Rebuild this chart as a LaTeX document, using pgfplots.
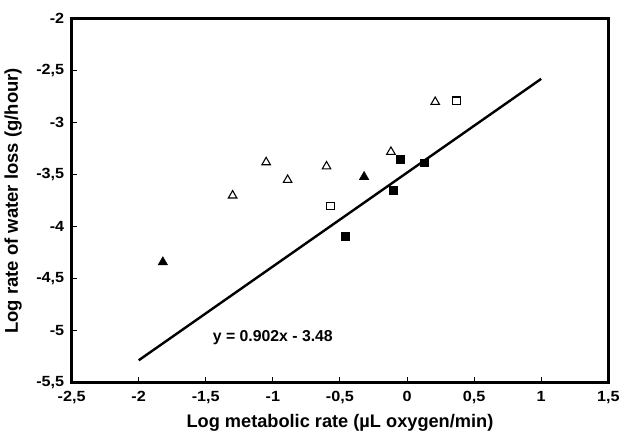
\documentclass[border=0pt]{standalone}
\usepackage{fontspec}
\setmainfont{Liberation Sans}
\usepackage{graphicx}
\usepackage{pgfplots}
\pgfplotsset{compat=1.18}

\begin{document}
\begin{tikzpicture}
\begin{axis}[
    scale only axis,
    width=401pt, height=272pt,
    xmin=-2.5, xmax=1.5, ymin=-5.5, ymax=-2,
    xtick={-2.5,-2,...,1.5},
    ytick={-5.5,-5,...,-2},
    axis line style={line width=2.1pt},
    tick style={black, line width=0.8pt},
    tick align=inside,
    major tick length=4pt,
    xtick pos=bottom, ytick pos=left,
    /pgf/number format/.cd, use comma, fixed, assume math mode=true,
    /pgfplots/.cd,
    ticklabel style={font=\fontsize{11}{13}\selectfont\bfseries},
    xticklabel={\scalebox{1.1}[1]{\pgfmathprintnumber{\tick}}},
    yticklabel={\scalebox{1.1}[1]{\pgfmathprintnumber{\tick}}},
    yticklabel style={xshift=-2pt},
    xticklabel style={yshift=-3pt},
    xlabel={\fontsize{13.6}{16}\selectfont\bfseries Log metabolic rate (µL oxygen/min)},
    ylabel={\fontsize{13.8}{16}\selectfont\bfseries Log rate of water loss (g/hour)},
    xlabel style={yshift=-1pt},
    ylabel style={yshift=4pt},
    clip=false,
]
% open triangles
\addplot[only marks, mark=triangle, mark size=3.7pt, mark options={line width=0.8pt}] coordinates {
    (-1.30,-3.70) (-1.05,-3.38) (-0.89,-3.55) (-0.60,-3.42) (-0.12,-3.28) (0.21,-2.80)
};
% open squares
\addplot[only marks, mark=square, mark size=2.9pt, mark options={line width=0.8pt}] coordinates {
    (0.37,-2.79) (-0.57,-3.80)
};
% filled squares
\addplot[only marks, mark=square*, mark size=2.9pt] coordinates {
    (-0.05,-3.35) (0.13,-3.385) (-0.10,-3.65) (-0.46,-4.09)
};
% filled triangles
\addplot[only marks, mark=triangle*, mark size=4pt] coordinates {
    (-0.32,-3.52) (-1.82,-4.34)
};
% regression line
\addplot[line width=1.8pt, no marks] coordinates {(-2,-5.284) (1,-2.578)};
\node[font=\fontsize{11.8}{13}\selectfont\bfseries] at (axis cs:-1.0,-5.07) {y = 0.902x - 3.48};
\coordinate (frametop) at (rel axis cs:0,1);
\end{axis}
% white space above the frame, as in the reference
\path (frametop) -- ++(0,14pt);
\end{tikzpicture}
\end{document}
